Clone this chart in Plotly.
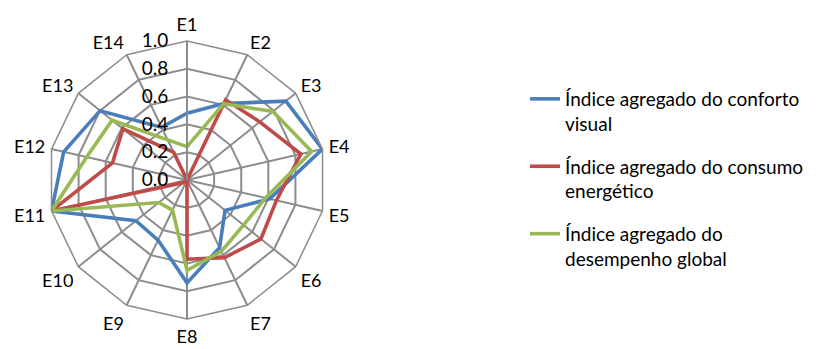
import plotly.graph_objects as go

# Spokes of the radar chart
categories = ["E1", "E2", "E3", "E4", "E5", "E6", "E7",
              "E8", "E9", "E10", "E11", "E12", "E13", "E14"]

# Aggregated indices per scenario
conforto_visual = [0.48, 0.61, 0.91, 1.00, 0.61, 0.35, 0.54,
                   0.74, 0.48, 0.47, 1.00, 0.91, 0.80, 0.42]
consumo_energetico = [0.00, 0.64, 0.67, 0.84, 0.66, 0.68, 0.62,
                      0.57, 0.00, 0.03, 1.00, 0.55, 0.59, 0.22]
desempenho_global = [0.24, 0.61, 0.79, 0.92, 0.58, 0.52, 0.57,
                     0.65, 0.24, 0.26, 1.00, 0.74, 0.69, 0.32]

series_names = [
    "Índice agregado do conforto<br>visual",
    "Índice agregado do consumo<br>energético",
    "Índice agregado do<br>desempenho global",
]
series_values = [conforto_visual, consumo_energetico, desempenho_global]
series_colors = ["#4A7EBB", "#BE4B48", "#98B954"]

radial_ticks = [0.0, 0.2, 0.4, 0.6, 0.8, 1.0]

FONT = "Lato"
GRID = "#8C8C8C"

fig = go.Figure()
for name, vals, color in zip(series_names, series_values, series_colors):
    fig.add_trace(go.Scatterpolar(
        r=vals + vals[:1],
        theta=categories + categories[:1],
        mode="lines",
        name=name,
        legendgroup=name,
        line=dict(color=color, width=3.6),
    ))

W, H = 816, 349
cx, cy, R = 187, 180, 139

fig.update_layout(
    width=W, height=H,
    margin=dict(l=0, r=0, t=0, b=0),
    paper_bgcolor="white",
    plot_bgcolor="white",
    font=dict(family=FONT, size=19, color="#000000"),
    polar=dict(
        domain=dict(x=[(cx - R) / W, (cx + R) / W],
                    y=[1 - (cy + R) / H, 1 - (cy - R) / H]),
        bgcolor="white",
        gridshape="linear",
        angularaxis=dict(
            rotation=90,
            direction="clockwise",
            categoryorder="array",
            categoryarray=categories,
            showline=True,
            linecolor=GRID,
            linewidth=1.5,
            gridcolor=GRID,
            gridwidth=1.5,
            ticks="outside",
            ticklen=2,
            tickcolor="rgba(0,0,0,0)",
            tickfont=dict(family=FONT, size=18, color="#000000"),
        ),
        radialaxis=dict(
            range=[0, 1],
            tickvals=radial_ticks,
            ticktext=[f"{v:.1f}" for v in radial_ticks],
            angle=90,
            tickangle=90,
            side="counterclockwise",
            showline=True,
            linecolor=GRID,
            linewidth=2,
            gridcolor=GRID,
            gridwidth=1.5,
            ticks="outside",
            ticklen=11,
            tickcolor="rgba(0,0,0,0)",
            tickfont=dict(family=FONT, size=19, color="#000000"),
        ),
    ),
    showlegend=True,
    legend=dict(
        x=525 / W, y=1 - 80 / H,
        xanchor="left", yanchor="top",
        valign="top",
        tracegroupgap=15,
        font=dict(family=FONT, size=19, color="#000000"),
        bgcolor="rgba(0,0,0,0)",
    ),
)

fig.write_html("out.html")
